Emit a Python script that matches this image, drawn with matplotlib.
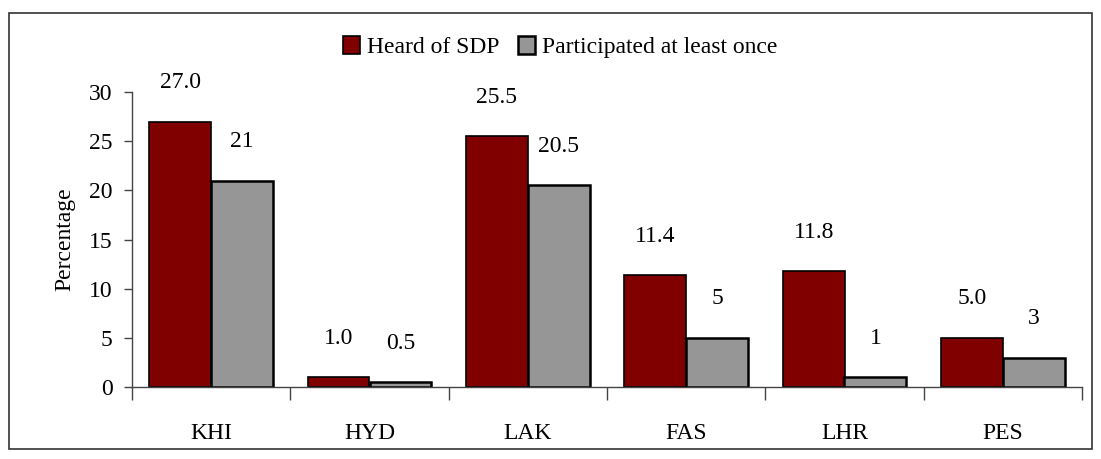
import matplotlib
matplotlib.use("Agg")
import matplotlib.pyplot as plt
import numpy as np
from matplotlib.patches import Rectangle

# ── data ─────────────────────────────────────────────────────────────────────
cities = ["KHI", "HYD", "LAK", "FAS", "LHR", "PES"]
heard = [27.0, 1.0, 25.5, 11.4, 11.8, 5.0]
participated = [21, 0.5, 20.5, 5, 1, 3]
heard_labels = ["27.0", "1.0", "25.5", "11.4", "11.8", "5.0"]
part_labels = ["21", "0.5", "20.5", "5", "1", "3"]

RED = "#800000"
GRAY = "#969696"
FS = 17

plt.rcParams["font.family"] = ["Liberation Serif", "DejaVu Serif"]

fig = plt.figure(figsize=(11.01, 4.59), dpi=100)
ax = fig.add_axes([132 / 1101, 1 - 387 / 459, (1082 - 132) / 1101, (387 - 92) / 459])

x = np.arange(len(cities))
w = 0.39
b1 = ax.bar(x - w / 2, heard, w, color=RED, edgecolor="black", linewidth=1.2,
            label="Heard of SDP", zorder=2)
b2 = ax.bar(x + w / 2, participated, w, color=GRAY, edgecolor="black", linewidth=1.8,
            label="Participated at least once", zorder=2)

for bars, labs in ((b1, heard_labels), (b2, part_labels)):
    for bar, lab in zip(bars, labs):
        ax.annotate(lab, (bar.get_x() + bar.get_width() / 2, bar.get_height()),
                    xytext=(0, 28), textcoords="offset points",
                    ha="center", va="center", fontsize=FS)

ax.set_xlim(-0.5, len(cities) - 0.5)
ax.set_ylim(0, 30)
ax.set_yticks([0, 5, 10, 15, 20, 25, 30])
ax.tick_params(axis="y", labelsize=FS, length=6, width=1, color="#444444", pad=8)
ax.set_xticks(np.arange(len(cities) + 1) - 0.5)
ax.set_xticklabels([])
ax.set_xticks(x, minor=True)
ax.set_xticklabels(cities, minor=True)
ax.tick_params(axis="x", which="major", length=9, width=1, color="#444444")
ax.tick_params(axis="x", which="minor", length=0, labelsize=FS, pad=26)
ax.set_ylabel("Percentage", fontsize=FS, labelpad=10)

for s in ("top", "right"):
    ax.spines[s].set_visible(False)
for s in ("left", "bottom"):
    ax.spines[s].set_color("#444444")
    ax.spines[s].set_linewidth(1)

leg = fig.legend(handles=[b1, b2], loc="center", bbox_to_anchor=(560 / 1101, 1 - 47 / 459),
                 ncol=2, frameon=False, fontsize=FS, handlelength=0.7, handleheight=0.8,
                 handletextpad=0.3, columnspacing=0.8)

fig.patches.append(Rectangle((9 / 1101, 1 - 449 / 459), (1092 - 9) / 1101, (449 - 13) / 459,
                             transform=fig.transFigure, fill=False, edgecolor="#333333",
                             linewidth=1.2))

fig.savefig("out.png", dpi=100)
